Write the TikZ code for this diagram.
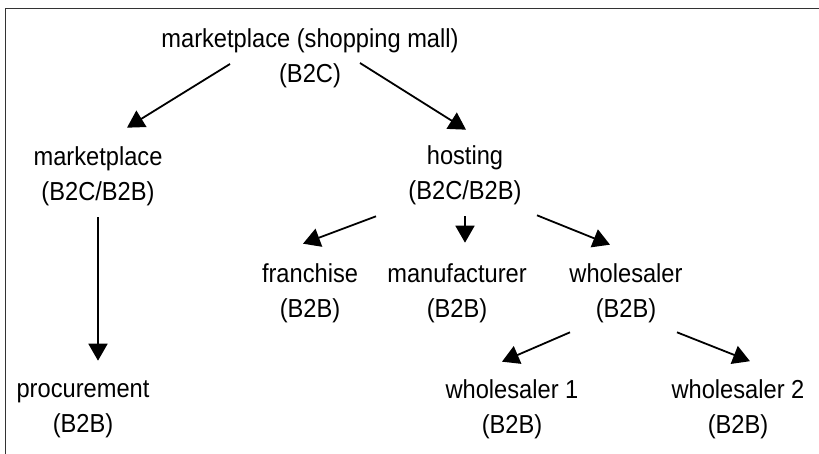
\documentclass[tikz,border=0pt]{standalone}
\usepackage{fontspec}
\setmainfont{Liberation Sans}[FakeStretch=0.91]
\usetikzlibrary{arrows.meta}
\definecolor{frame}{gray}{0.2}

\begin{document}
\begin{tikzpicture}[x=1pt, y=-1pt,
  every node/.style={align=center, inner sep=0, font=\fontsize{26}{35}\selectfont},
  link/.style={line width=1.8, -{Triangle[length=17pt, width=19pt]}}]
  \useasboundingbox (0, 0) rectangle (819, 454);
  \draw [color=frame, line width=1.8] (5.5, 454) -- (5.5, 8.5) -- (819, 8.5);

  \node (mall) at (310, 58.5) {marketplace (shopping mall)\\(B2C)};
  \node (mkt)  at (98, 176)   {marketplace\\(B2C/B2B)};
  \node (host) at (465, 175)  {hosting\\(B2C/B2B)};

  \node (fran) at (310, 293)  {franchise\\(B2B)};
  \node (manu) at (457, 293)  {manufacturer\\(B2B)};
  \node (whol) at (626, 293)  {wholesaler\\(B2B)};

  \node (proc) at (83, 409)   {procurement\\(B2B)};
  \node (ws1)  at (512, 409)  {wholesaler 1\\(B2B)};
  \node (ws2)  at (738, 409.5) {wholesaler 2\\(B2B)};

  %
  \draw [link] ([shift={(-80, 5.5)}]mall.center) -- ([shift={(29, -18.5)}]mkt.north);
  \draw [link] ([shift={(50, 4.5)}]mall.center) -- ([shift={(1, -15.5)}]host.north);
  \draw [link] ([shift={(0, 11.5)}]mkt.south) -- ([shift={(0, -19.5)}]mkt.south |- proc.north);

  \draw [link] ([shift={(-89, 11.5)}]host.south) -- ([shift={(-7, -19.5)}]fran.north);
  \draw [link] ([shift={(0, 11.5)}]host.south) -- ([shift={(0, -20.5)}]host.south |- manu.north);
  \draw [link] ([shift={(72, 10.5)}]host.south) -- ([shift={(-16, -18.5)}]whol.north);

  \draw [link] ([shift={(-56, 9.5)}]whol.south) -- ([shift={(-10, -17.5)}]ws1.north);
  \draw [link] ([shift={(51, 9.5)}]whol.south) -- ([shift={(12, -18.5)}]ws2.north);
\end{tikzpicture}
\end{document}
